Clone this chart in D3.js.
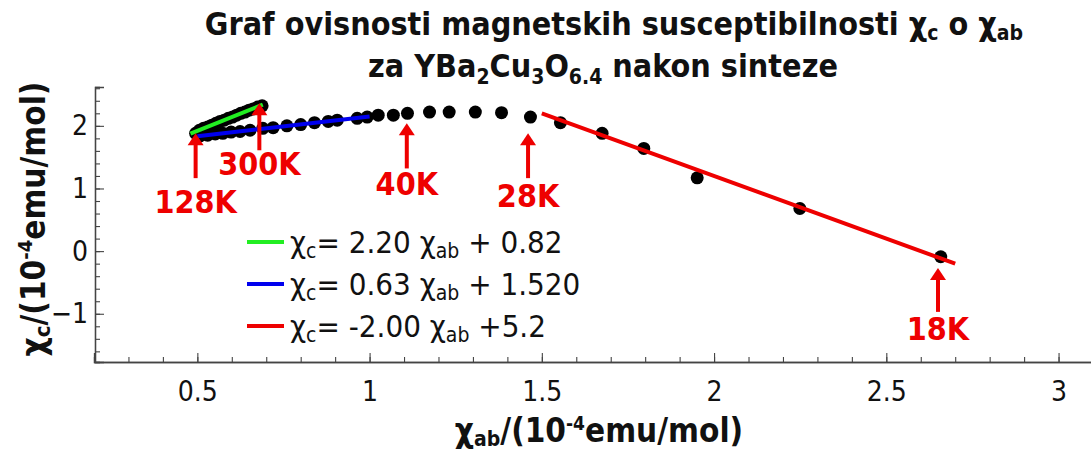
<!DOCTYPE html>
<html>
<head>
<meta charset="utf-8">
<script src="https://cdn.jsdelivr.net/npm/d3@7/dist/d3.min.js"></script>
<style>
body{margin:0;background:#fff;}
svg text{font-family:"DejaVu Sans Condensed","DejaVu Sans",sans-serif;font-stretch:condensed;}
</style>
</head>
<body>
<script>
var width = 1091;
var height = 450;

// measured points chi_ab, chi_c (10^-4 emu/mol), from 300K down to 18K
var chiAb = [0.688,0.675,0.662,0.650,0.638,0.626,0.614,0.602,0.590,0.578,0.566,0.554,0.542,0.530,0.518,0.506,0.495,
	0.508,0.530,0.552,0.574,0.598,0.624,0.653,0.690,0.720,0.760,0.800,0.840,0.880,0.906,0.964,0.993,1.025,1.069,1.110,
	1.174,1.231,1.307,1.383,1.467,
	1.554,1.675,1.796,1.951,2.249,2.658];
var chiC = [2.32,2.30,2.27,2.25,2.22,2.20,2.17,2.14,2.12,2.09,2.07,2.04,2.01,1.98,1.96,1.93,1.88,
	1.84,1.85,1.87,1.88,1.90,1.91,1.93,1.96,1.97,2.00,2.02,2.05,2.07,2.09,2.12,2.14,2.17,2.17,2.20,
	2.22,2.22,2.22,2.21,2.14,
	2.05,1.88,1.64,1.17,0.68,-0.09];

// linear fits
var fitSlope = [2.20,0.63,-2.00];
var fitIntercept = [0.82,1.520,5.2];
var fitFrom = [0.48,0.50,1.50];
var fitTo = [0.69,1.00,2.70];
var fitText = ['2.20','0.63','-2.00'];
var fitTail = [' + 0.82',' + 1.520',' +5.2'];

// temperature labels
var annotText = ['128K','300K','40K','28K','18K'];
var annotX = [0.495,0.680,1.108,1.460,2.650];
var annotTip = [1.88,2.36,2.04,1.88,-0.27];
var annotTail = [1.165,1.61,1.32,1.165,-0.97];
var annotLabel = [0.61,1.21,0.89,0.70,-1.42];

var xMajor = [0.5,1,1.5,2,2.5,3];
var yMajor = [-1,0,1,2];

var fitColor = ['#22ee22','#0000ee','#ee0000'];

var svg = d3.select('body').append('svg').attr('width',width).attr('height',height);

var x = d3.scaleLinear().domain([0.2,3.1]).range([94,1093]);
var y = d3.scaleLinear().domain([-1.77,2.62]).range([362,87]);

// axes, ticks pointing inward
function styleAxis(g){
	g.select('.domain').attr('stroke','#444').attr('stroke-width',1.3);
	g.selectAll('.tick line').attr('stroke','#444').attr('stroke-width',1.1);
	g.selectAll('text').attr('fill','#111').style('font-size','28px');
}
svg.append('g').attr('transform','translate(0,362)')
	.call(d3.axisBottom(x).tickValues(x.ticks(29).filter(d=>d>0.25)).tickSize(-5).tickFormat(''))
	.call(styleAxis);
svg.append('g').attr('transform','translate(0,362)')
	.call(d3.axisBottom(x).tickValues(xMajor).tickSize(-9).tickPadding(19).tickFormat(d3.format('~g')))
	.call(styleAxis);
svg.append('g').attr('transform','translate(95,0)')
	.call(d3.axisLeft(y).tickValues(y.ticks(22)).tickSize(-5).tickFormat(''))
	.call(styleAxis);
svg.append('g').attr('transform','translate(95,0)')
	.call(d3.axisLeft(y).tickValues(yMajor).tickSize(-9).tickPadding(7).tickFormat(d3.format('~g')))
	.call(styleAxis);

// data points
svg.append('g').selectAll('circle')
	.data(chiAb.map((d,i)=>[d,chiC[i]]))
	.enter().append('circle')
	.attr('cx',d=>x(d[0])).attr('cy',d=>y(d[1])).attr('r',6.5).attr('fill','#000');

// fit lines
svg.append('g').selectAll('line')
	.data(fitSlope).enter().append('line')
	.attr('x1',(d,i)=>x(fitFrom[i])).attr('y1',(d,i)=>y(d*fitFrom[i]+fitIntercept[i]))
	.attr('x2',(d,i)=>x(fitTo[i])).attr('y2',(d,i)=>y(d*fitTo[i]+fitIntercept[i]))
	.attr('stroke',(d,i)=>fitColor[i]).attr('stroke-width',4);

// arrows + temperature labels
var ann = svg.append('g').selectAll('g').data(annotText).enter().append('g');
ann.append('line')
	.attr('x1',(d,i)=>x(annotX[i])).attr('x2',(d,i)=>x(annotX[i]))
	.attr('y1',(d,i)=>y(annotTip[i])+8).attr('y2',(d,i)=>y(annotTail[i]))
	.attr('stroke','#ee0000').attr('stroke-width',4);
ann.append('path')
	.attr('d',(d,i)=>{var cx=x(annotX[i]),cy=y(annotTip[i]);return 'M'+cx+','+cy+'L'+(cx-8)+','+(cy+12)+'L'+(cx+8)+','+(cy+12)+'Z';})
	.attr('fill','#ee0000');
ann.append('text')
	.attr('x',(d,i)=>x(annotX[i])).attr('y',(d,i)=>y(annotLabel[i]))
	.attr('text-anchor','middle').attr('fill','#ee0000')
	.style('font-size','32px').style('font-weight','bold')
	.text(d=>d);

// legend
var leg = svg.append('g').selectAll('g').data(fitText).enter().append('g')
	.attr('transform',(d,i)=>'translate(247,'+(242+i*42)+')');
leg.append('line').attr('x1',0).attr('x2',37).attr('y1',0).attr('y2',0)
	.attr('stroke',(d,i)=>fitColor[i]).attr('stroke-width',4);
var lt = leg.append('text').attr('x',43).attr('y',11).attr('fill','#111').style('font-size','31px');
lt.append('tspan').text('χ');
lt.append('tspan').attr('dy',5).style('font-size','21px').text('c');
lt.append('tspan').attr('dy',-5).text(d=>'= '+d+' χ');
lt.append('tspan').attr('dy',5).style('font-size','21px').text('ab');
lt.append('tspan').attr('dy',-5).text((d,i)=>fitTail[i]);

// title
var t1 = svg.append('text').attr('x',614).attr('y',35).attr('text-anchor','middle')
	.style('font-size','32px').style('font-weight','bold').attr('fill','#111');
t1.append('tspan').text('Graf ovisnosti magnetskih susceptibilnosti χ');
t1.append('tspan').attr('dy',5).style('font-size','21px').text('c');
t1.append('tspan').attr('dy',-5).text(' o χ');
t1.append('tspan').attr('dy',5).style('font-size','21px').text('ab');
var t2 = svg.append('text').attr('x',603).attr('y',77).attr('text-anchor','middle')
	.style('font-size','32px').style('font-weight','bold').attr('fill','#111');
t2.append('tspan').text('za YBa');
t2.append('tspan').attr('dy',7).style('font-size','21px').text('2');
t2.append('tspan').attr('dy',-7).text('Cu');
t2.append('tspan').attr('dy',7).style('font-size','21px').text('3');
t2.append('tspan').attr('dy',-7).text('O');
t2.append('tspan').attr('dy',7).style('font-size','21px').text('6.4');
t2.append('tspan').attr('dy',-7).text(' nakon sinteze');

// axis titles
var xl = svg.append('text').attr('x',599).attr('y',442).attr('text-anchor','middle')
	.style('font-size','33px').style('font-weight','bold').attr('fill','#111');
xl.append('tspan').text('χ');
xl.append('tspan').attr('dy',4).style('font-size','21px').text('ab');
xl.append('tspan').attr('dy',-4).text('/(10');
xl.append('tspan').attr('dy',-12).style('font-size','19px').text('-4');
xl.append('tspan').attr('dy',12).text('emu/mol)');

var yl = svg.append('text').attr('transform','translate(45,219) rotate(-90)').attr('text-anchor','middle')
	.style('font-size','33px').style('font-weight','bold').attr('fill','#111');
yl.append('tspan').text('χ');
yl.append('tspan').attr('dy',5).style('font-size','22px').text('c');
yl.append('tspan').attr('dy',-5).text('/(10');
yl.append('tspan').attr('dy',-13).style('font-size','20px').text('-4');
yl.append('tspan').attr('dy',13).text('emu/mol)');
</script>
</body>
</html>
